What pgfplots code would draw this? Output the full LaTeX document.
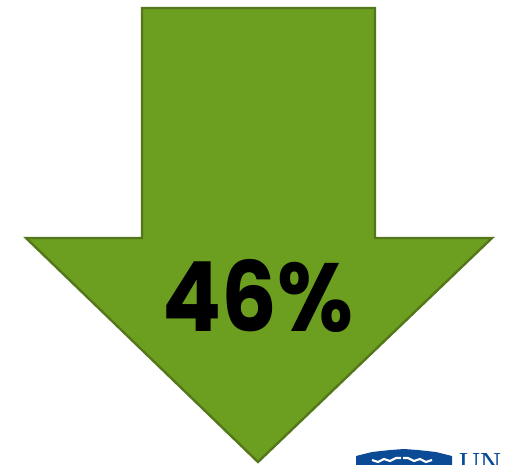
\documentclass[border=0pt]{standalone}
\usepackage{pgfplots}
\pgfplotsset{compat=1.18}
\usepackage{fontspec}
\setmainfont{Poppins}
\newfontfamily\logofont{Liberation Serif}
\definecolor{arrowfill}{HTML}{6C9F1F}
\definecolor{arrowedge}{HTML}{54771B}
\definecolor{logoblue}{HTML}{0B4A94}
\begin{document}
\begin{tikzpicture}
\clip (0,0) rectangle (506pt,465pt);
\begin{axis}[
    at={(0,0)}, anchor=south west,
    scale only axis,
    width=506pt, height=465pt,
    xmin=0, xmax=506, ymin=0, ymax=465,
    y dir=reverse,
    hide axis,
    clip=true
]
% arrow, pixel positions
\addplot[fill=arrowfill, draw=arrowedge, line width=2.4pt, line join=miter] coordinates {
    (142,8) (375,8) (375,238) (492,238) (258,462) (26,238) (142,238)
} -- cycle;
% logo at the bottom edge, cut off by the page
\addplot[fill=logoblue, draw=none] coordinates {
    (356,456) (372,452) (390,450) (404,449) (418,450) (436,452) (452,456) (452,470) (356,470)
} -- cycle;
\addplot[white, line width=2.2pt] coordinates {(372,460) (378,462) (384,459) (390,461) (396,458) (401,458)};
\addplot[white, line width=2.2pt] coordinates {(432,460) (426,462) (420,459) (414,461) (408,458) (403,458)};
\node[anchor=center, inner sep=0pt] at (axis cs:258,296) {\scalebox{0.93}[1.03]{\fontsize{94}{94}\selectfont\bfseries 46\%}};
\node[anchor=north west, font=\fontsize{29}{29}\selectfont\logofont, text=logoblue, inner sep=0pt] at (axis cs:459,453) {UN};
\end{axis}
\end{tikzpicture}
\end{document}
